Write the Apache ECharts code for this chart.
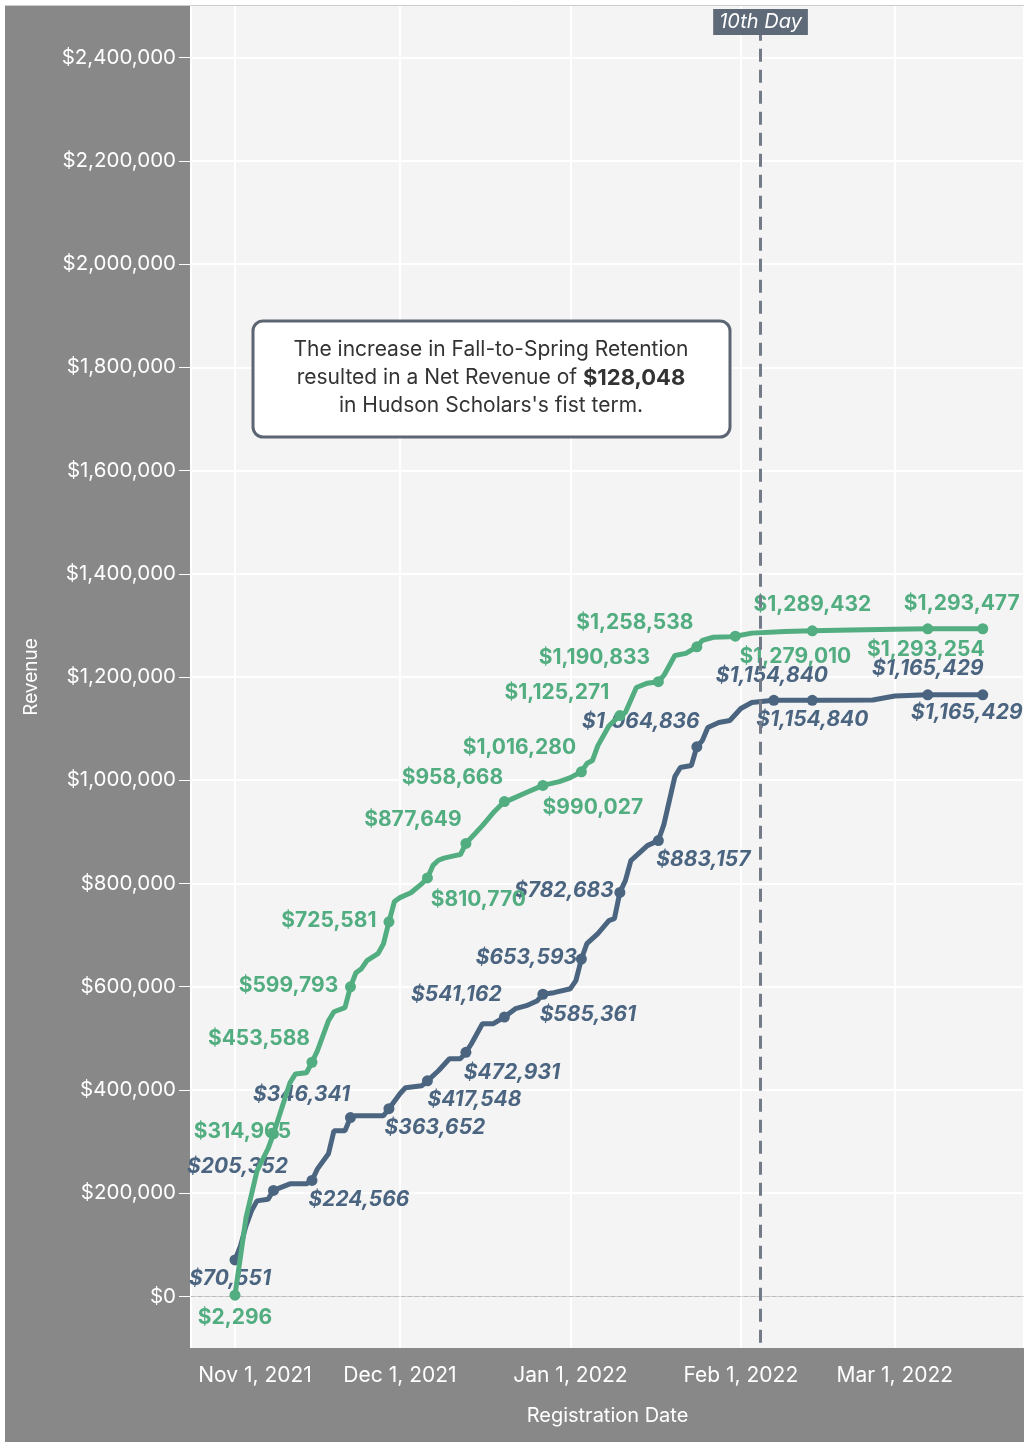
<!DOCTYPE html>
<html>
<head>
<meta charset="utf-8">
<title>Revenue by Registration Date</title>
<script src="https://cdn.jsdelivr.net/npm/echarts@6/dist/echarts.min.js"></script>
<style>
  html, body { margin: 0; padding: 0; background: #fff; }
  #chart { width: 1024px; height: 1442px; }
</style>
</head>
<body>
<div id="chart"></div>
<script>
// 数据：距 2021-11-01 的天数 + 累计收入
const greenDays = [0, 2, 4, 6, 7, 10, 11, 13, 14, 15, 17, 18, 20, 21, 22, 23, 24, 26, 27, 28, 29, 30, 32, 34, 35,
  36, 37, 38, 40, 41, 42, 43, 45, 47, 49, 50, 53, 56, 59, 61, 63, 64, 65, 66, 68, 69, 70, 71, 73, 75, 77,
  78, 80, 82, 84, 85, 87, 90, 91, 94, 100, 105, 112, 120, 126, 136];
const greenValues = [2296, 152000, 243000, 286000, 314965, 413900, 431000, 433300, 453588, 476000, 534000, 551500,
  559300, 599793, 627000, 635000, 650400, 664000, 683000, 725581, 765000, 772500, 782000, 799700, 810770,
  835000, 845000, 849000, 853900, 856000, 877649, 889000, 912000, 937300, 958668, 962000, 976100, 990027,
  997400, 1005000, 1016280, 1032300, 1038100, 1067000, 1105000, 1115600, 1125271, 1131100, 1179600, 1188000,
  1190833, 1203000, 1241800, 1245700, 1258538, 1271000, 1277000, 1278000, 1279010, 1285000, 1288000, 1289432,
  1291000, 1292500, 1293254, 1293477];

const blueDays = [0, 1, 2, 3, 4, 6, 7, 10, 13, 14, 15, 17, 18, 20, 21, 22, 27, 28, 30, 31, 34, 35, 37, 39, 41, 42,
  43, 45, 47, 49, 51, 53, 55, 56, 58, 61, 62, 63, 64, 66, 68, 69, 70, 71, 72, 75, 77, 78, 80, 81, 83, 84,
  85, 86, 88, 90, 92, 94, 98, 105, 108, 116, 120, 126, 136];
const blueValues = [70551, 97900, 136700, 165700, 185000, 188000, 205352, 218100, 218100, 224566, 247000, 276300,
  320900, 320900, 346341, 350000, 350000, 363652, 392600, 404200, 408100, 417548, 437100, 460400, 460400, 472931,
  489500, 528300, 528300, 541162, 557400, 563200, 572900, 585361, 588400, 596100, 611600, 653593, 683400, 702800,
  728000, 731800, 782683, 805500, 844200, 873300, 883157, 914000, 1007000, 1024600, 1028400, 1064836,
  1076900, 1102000, 1111800, 1115700, 1139000, 1150600, 1154840, 1154840, 1155000, 1155500, 1163200, 1165429, 1165429];

// 带圆点和标签的日期
const greenMarkedDays = [0, 7, 14, 21, 28, 35, 42, 49, 56, 63, 70, 77, 84, 91, 105, 126, 136];
const blueMarkedDays = [0, 7, 14, 21, 28, 35, 42, 49, 56, 63, 70, 77, 84, 98, 105, 126, 136];

// 标签相对圆点的偏移 (仅样式)
const greenLabelOffsets = [[0, 22], [-31, -2], [-53, -24], [-62, -1], [-60, -1], [51, 22], [-53, -24], [-52, -24],
  [50, 22], [-62, -24], [-63, -23], [-64, -24], [-62, -24], [60, 20], [0, -26], [-2, 21], [-21, -25]];
const blueLabelOffsets = [[-5, 19], [-36, -24], [47, 19], [-49, -23], [46, 19], [47, 19], [46, 20], [-48, -22],
  [45, 20], [-55, -1], [-56, -2], [45, 19], [-56, -25], [-2, -25], [0, 19], [0, -26], [-16, 18]];

const monthNames = ['Jan', 'Feb', 'Mar', 'Apr', 'May', 'Jun', 'Jul', 'Aug', 'Sep', 'Oct', 'Nov', 'Dec'];
const tenthDay = new Date(2022, 1, 4, 14).getTime();
const xMin = new Date(2021, 9, 24).getTime();
const xMax = new Date(2022, 2, 24, 12).getTime();

const GREEN = '#52ad80';
const BLUE = '#4b6581';
const FONT = 'Inter';

function dayToTime(d) {
  return new Date(2021, 10, 1 + d).getTime();
}

function money(v) {
  return '$' + v.toLocaleString('en-US');
}

// 组装折线数据，标记点带圆点和标签
function buildData(days, values, markedDays, offsets, color, italic) {
  return days.map((d, i) => {
    const k = markedDays.indexOf(d);
    const item = { value: [dayToTime(d), values[i]] };
    if (k >= 0) {
      item.symbol = 'circle';
      item.symbolSize = 11;
      item.label = {
        show: true,
        position: 'inside',
        offset: offsets[k],
        formatter: money(values[i]),
        color: color,
        fontFamily: FONT,
        fontSize: 21,
        fontWeight: 'bold',
        fontStyle: italic ? 'italic' : 'normal'
      };
    } else {
      item.symbol = 'none';
      item.symbolSize = 0;
    }
    return item;
  });
}

const chart = echarts.init(document.getElementById('chart'), null, { renderer: 'canvas' });

const yColors = ['rgba(0,0,0,0)'];
for (let i = 0; i < 12; i++) yColors.push('#ffffff');

const option = {
  backgroundColor: '#ffffff',
  animation: false,
  textStyle: { fontFamily: FONT },
  graphic: [
    // 绘图区背景与灰色面板
    { type: 'rect', z: -10, shape: { x: 191, y: 6, width: 833, height: 1342 }, style: { fill: '#f4f4f4' } },
    { type: 'rect', z: -10, shape: { x: 5, y: 6, width: 186, height: 1342 }, style: { fill: '#888888' } },
    { type: 'rect', z: -10, shape: { x: 5, y: 1348, width: 1019, height: 94 }, style: { fill: '#888888' } },
    { type: 'line', z: -9, shape: { x1: 5, y1: 5.5, x2: 1024, y2: 5.5 }, style: { stroke: '#cccccc', lineWidth: 1 } },
    // 注释框
    {
      type: 'rect',
      z: 100,
      shape: { x: 253, y: 321, width: 477, height: 116, r: 10 },
      style: { fill: '#ffffff', stroke: '#5c6573', lineWidth: 3 }
    },
    {
      type: 'text',
      z: 101,
      style: {
        x: 491,
        y: 378,
        text: 'The increase in Fall-to-Spring Retention\nresulted in a Net Revenue of {b|$128,048}\nin Hudson Scholars\'s fist term.',
        align: 'center',
        verticalAlign: 'middle',
        fill: '#333333',
        fontFamily: FONT,
        fontSize: 21,
        lineHeight: 28,
        rich: {
          b: { fontWeight: 'bold', fontSize: 22, fontFamily: FONT, fill: '#333333', lineHeight: 28 }
        }
      }
    }
  ],
  grid: [
    { left: 191, right: 0, top: 6, bottom: 94, show: false },
    { left: 191, right: 0, top: 57.6, bottom: 145.6, show: false }
  ],
  xAxis: [
    {
      type: 'time',
      gridIndex: 0,
      min: xMin,
      max: xMax,
      minInterval: 28 * 86400000,
      maxInterval: 31 * 86400000,
      name: 'Registration Date',
      nameLocation: 'middle',
      nameGap: 58,
      nameTextStyle: { color: '#ffffff', fontSize: 20, fontFamily: FONT },
      axisLine: { show: true, lineStyle: { color: '#d0d0d0', width: 1 } },
      axisTick: { show: true, length: 8, lineStyle: { color: '#ffffff', width: 1 } },
      axisLabel: {
        color: '#ffffff',
        fontSize: 21,
        fontFamily: FONT,
        margin: 17,
        showMinLabel: false,
        showMaxLabel: false,
        hideOverlap: false,
        formatter: function (value) {
          const d = new Date(value);
          const txt = monthNames[d.getMonth()] + ' ' + d.getDate() + ', ' + d.getFullYear();
          // 第一个标签向右偏，避免贴边
          if (d.getMonth() === 10) return '{first|' + txt + '}';
          return txt;
        },
        rich: {
          first: { color: '#ffffff', fontSize: 21, fontFamily: FONT, padding: [0, 0, 0, 40] }
        }
      },
      splitLine: { show: true, lineStyle: { color: '#ffffff', width: 2 } }
    },
    {
      type: 'time',
      gridIndex: 1,
      min: xMin,
      max: xMax,
      show: false
    }
  ],
  yAxis: [
    {
      type: 'value',
      gridIndex: 0,
      min: -100000,
      max: 2500000,
      show: false,
      splitLine: { show: false }
    },
    {
      type: 'value',
      gridIndex: 1,
      min: 0,
      max: 2400000,
      interval: 200000,
      name: 'Revenue',
      nameLocation: 'middle',
      nameGap: 150,
      nameTextStyle: { color: '#ffffff', fontSize: 19, fontFamily: FONT },
      axisLine: { show: false },
      axisTick: { show: true, length: 12, lineStyle: { color: '#ffffff', width: 1 } },
      axisLabel: {
        color: '#ffffff',
        fontSize: 20.5,
        fontFamily: FONT,
        margin: 15,
        formatter: function (v) { return money(v); }
      },
      splitLine: { show: true, lineStyle: { color: yColors, width: 2 } }
    }
  ],
  series: [
    {
      name: 'Baseline',
      type: 'line',
      xAxisIndex: 0,
      yAxisIndex: 0,
      data: buildData(blueDays, blueValues, blueMarkedDays, blueLabelOffsets, BLUE, true),
      lineStyle: { color: BLUE, width: 5 },
      itemStyle: { color: BLUE },
      showSymbol: true,
      z: 3,
      markLine: {
        silent: true,
        symbol: ['none', 'none'],
        data: [
          [
            { coord: [tenthDay, -90000] },
            {
              coord: [tenthDay, 2443800],
              label: {
                show: true,
                position: 'end',
                distance: 0,
                formatter: '10th Day',
                color: '#ffffff',
                backgroundColor: '#5f6a78',
                padding: [3, 6, 3, 6],
                fontFamily: FONT,
                fontSize: 20,
                fontStyle: 'italic'
              }
            }
          ]
        ],
        lineStyle: { color: '#737b88', width: 3, type: [13, 8] },
        z: 5
      }
    },
    {
      name: 'With Retention',
      type: 'line',
      xAxisIndex: 0,
      yAxisIndex: 0,
      data: buildData(greenDays, greenValues, greenMarkedDays, greenLabelOffsets, GREEN, false),
      lineStyle: { color: GREEN, width: 5 },
      itemStyle: { color: GREEN },
      showSymbol: true,
      z: 4,
      markLine: {
        silent: true,
        symbol: ['none', 'none'],
        label: { show: false },
        data: [{ yAxis: 0 }],
        lineStyle: { color: '#bbbbbb', width: 1, type: [4, 3] },
        z: 1
      }
    }
  ]
};

chart.setOption(option);
</script>
</body>
</html>
